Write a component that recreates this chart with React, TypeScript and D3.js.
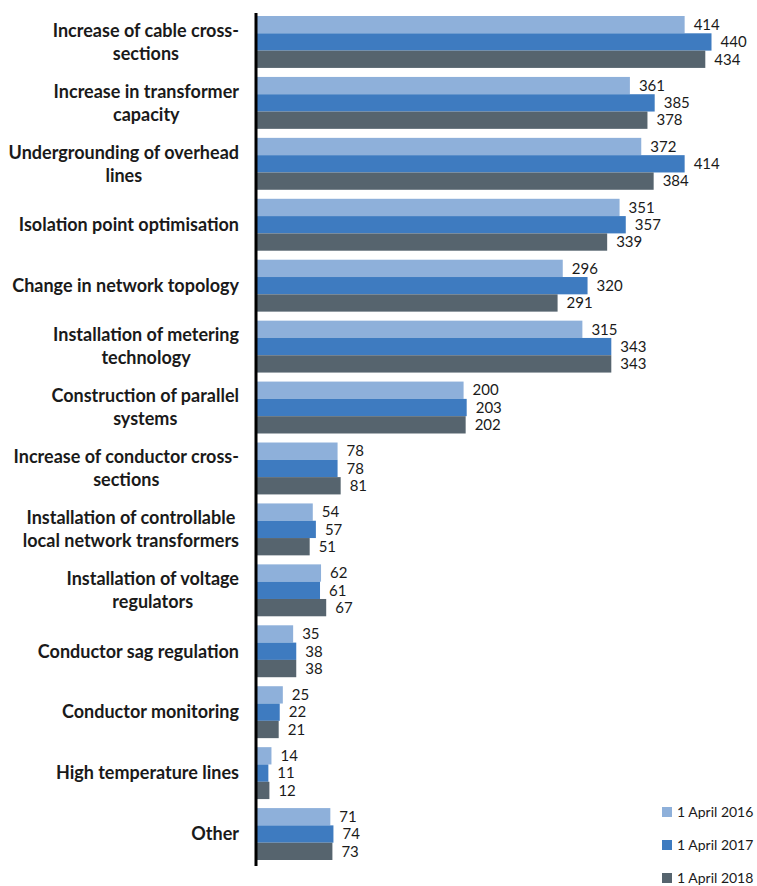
import React, { useEffect, useRef } from "react";
import * as d3 from "d3";

const categories: string[][] = [
  ["Increase of cable cross-", "sections"],
  ["Increase in transformer", "capacity"],
  ["Undergrounding of overhead", "lines"],
  ["Isolation point optimisation"],
  ["Change in network topology"],
  ["Installation of metering", "technology"],
  ["Construction of parallel", "systems"],
  ["Increase of conductor cross-", "sections"],
  ["Installation of controllable", "local network transformers"],
  ["Installation of voltage", "regulators"],
  ["Conductor sag regulation"],
  ["Conductor monitoring"],
  ["High temperature lines"],
  ["Other"],
];

const seriesNames = ["1 April 2016", "1 April 2017", "1 April 2018"];
const values2016 = [414, 361, 372, 351, 296, 315, 200, 78, 54, 62, 35, 25, 14, 71];
const values2017 = [440, 385, 414, 357, 320, 343, 203, 78, 57, 61, 38, 22, 11, 74];
const values2018 = [434, 378, 384, 339, 291, 343, 202, 81, 51, 67, 38, 21, 12, 73];
const seriesColors = ["#8eb0da", "#3e7bc0", "#56646e"];

export default function App() {
  const ref = useRef<SVGSVGElement>(null);
  useEffect(() => {
    const svg = d3.select(ref.current);
    svg.selectAll("*").remove();
    const font = "Lato, 'Open Sans', sans-serif";
    const allSeries = [values2016, values2017, values2018];
    const keys = categories.map((c) => c.join(" "));

    const x = d3.scaleLinear().domain([0, 440]).range([257, 711.5]);
    const y = d3.scaleBand().domain(keys).range([16, 860]).paddingInner(0.148).paddingOuter(0);
    const ys = d3.scaleBand().domain(seriesNames).range([0, y.bandwidth()]);

    const groups = svg
      .selectAll("g.grp")
      .data(keys)
      .join("g")
      .attr("class", "grp")
      .attr("transform", (k) => `translate(0,${y(k)})`);

    groups.each(function (k, i) {
      const g = d3.select(this);
      seriesNames.forEach((s, j) => {
        const v = allSeries[j][i];
        g.append("rect")
          .attr("x", x(0))
          .attr("y", ys(s)!)
          .attr("width", x(v) - x(0))
          .attr("height", ys.bandwidth())
          .attr("fill", seriesColors[j]);
        g.append("text")
          .attr("x", x(v) + 9)
          .attr("y", ys(s)! + ys.bandwidth() / 2)
          .attr("dy", "0.35em")
          .attr("font-family", font)
          .attr("font-size", 15)
          .attr("fill", "#1a1a1a")
          .text(v);
      });
      // category label
      const lines = categories[i];
      const cy = y.bandwidth() / 2;
      const lg = g.append("g");
      const texts = lines.map((ln, li) =>
        lg
          .append("text")
          .attr("y", cy + (li - (lines.length - 1) / 2) * 23)
          .attr("dy", "0.35em")
          .attr("text-anchor", "middle")
          .attr("font-family", font)
          .attr("font-size", 18)
          .attr("font-weight", 700)
          .attr("fill", "#1a1a1a")
          .text(ln)
      );
      const maxW = d3.max(texts, (t) => (t.node() as SVGTextElement).getComputedTextLength()) || 0;
      texts.forEach((t) => t.attr("x", 239 - maxW / 2));
    });

    // axis line
    svg
      .append("line")
      .attr("x1", 256)
      .attr("x2", 256)
      .attr("y1", 13)
      .attr("y2", 866)
      .attr("stroke", "#000")
      .attr("stroke-width", 3);

    // legend
    const lgd = svg.selectAll("g.lgd").data(seriesNames).join("g").attr("class", "lgd")
      .attr("transform", (_, i) => `translate(662,${807 + i * 33})`);
    lgd.append("rect").attr("width", 10).attr("height", 10).attr("fill", (_, i) => seriesColors[i]);
    lgd.append("text")
      .attr("x", 15)
      .attr("y", 5)
      .attr("dy", "0.35em")
      .attr("font-family", font)
      .attr("font-size", 14)
      .attr("fill", "#1a1a1a")
      .text((d) => d);
  }, []);

  return (
    <svg
      ref={ref}
      width={757}
      height={886}
      style={{ position: "absolute", left: 0, top: 0, background: "#fff" }}
    />
  );
}
